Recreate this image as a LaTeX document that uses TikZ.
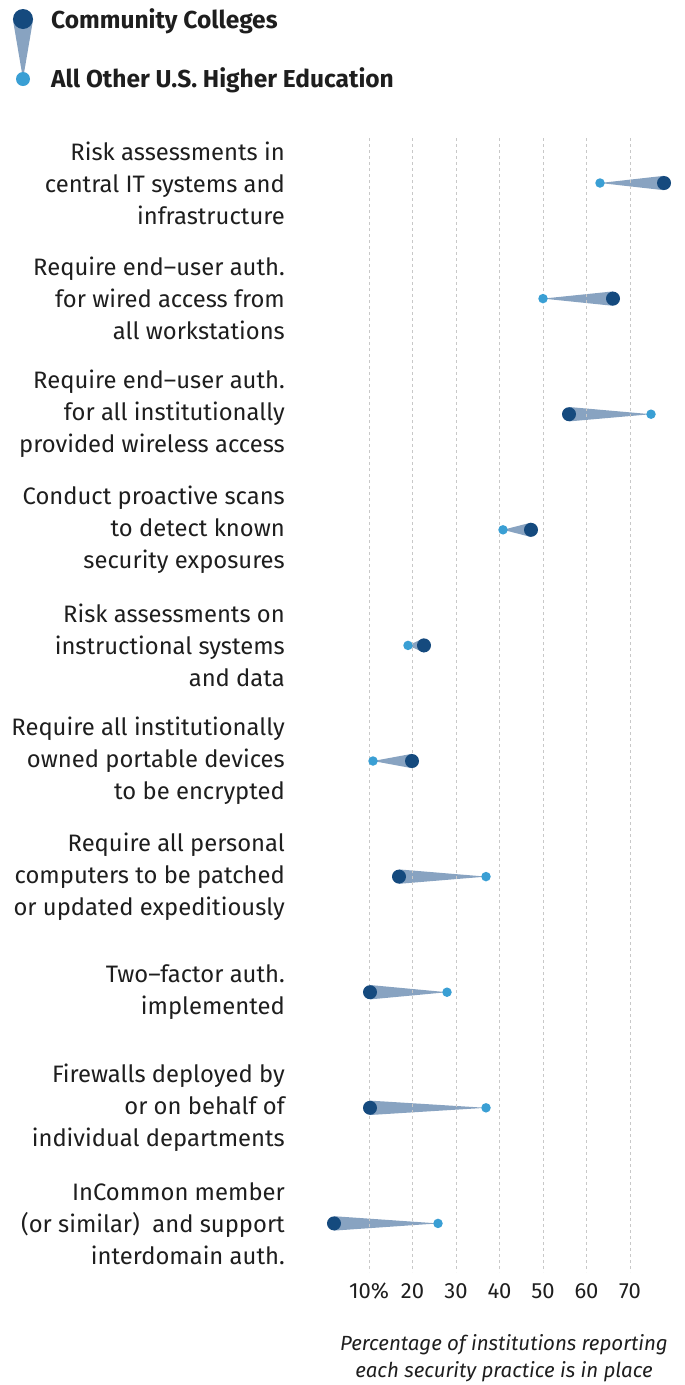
\documentclass[tikz,border=0pt]{standalone}
\usepackage{fontspec}
\setmainfont{Fira Sans}
\usetikzlibrary{backgrounds}
\definecolor{darkdot}{RGB}{21,74,126}
\definecolor{lightdot}{RGB}{58,159,212}
\definecolor{wedgec}{RGB}{136,163,193}
\definecolor{gridc}{RGB}{200,200,200}
\definecolor{txt}{RGB}{30,30,30}
\tikzset{
  dk/.style={circle,fill=darkdot,inner sep=0pt,minimum size=14pt},
  lt/.style={circle,fill=lightdot,inner sep=0pt,minimum size=9.5pt},
  wedge/.style={fill=wedgec,draw=none},
  lbl/.style={anchor=east,align=right,font=\fontsize{23.8}{32}\selectfont,text=txt,inner sep=0pt},
  tick/.style={anchor=base,font=\fontsize{22}{25}\selectfont,text=txt,inner sep=0pt},
  gridline/.style={gridc,dashed,line width=0.9pt},
  leg/.style={anchor=base west,font=\bfseries\fontsize{24.5}{25}\selectfont,text=txt,inner sep=0pt}
}
\begin{document}
\begin{tikzpicture}[x=1pt,y=-1pt]
\useasboundingbox (0,0) rectangle (685,1385);
% grid
\foreach \p/\t [count=\i] in {369/10\%,412.5/20,456/30,499.5/40,543/50,586.5/60,630/70}{
  \draw[gridline] (\p,138) -- (\p,1272);
  \node[tick] (t\i) at (\p,1298) {\t};
}
% legend
\node[dk,minimum size=20pt] (ld) at (23,19) {};
\node[lt,minimum size=14pt] (ll) at (23,79) {};
\begin{scope}[on background layer]
\fill[wedge] (ll.center) -- (ld.west) -- (ld.east) -- cycle;
\end{scope}
\node[leg] (legd) at (51,28) {Community Colleges};
\node[leg] (legl) at (51,87) {All Other U.S. Higher Education};
% rows
\foreach \dx/\lx/\txt [count=\i] in {
 664/600/{Risk assessments in\\central IT systems and\\infrastructure},
 613/543/{Require end–user auth.\\for wired access from\\all workstations},
 569/651/{Require end–user auth.\\for all institutionally\\provided wireless access},
 531/503/{Conduct proactive scans\\to detect known\\security exposures},
 424/408/{Risk assessments on\\instructional systems\\and data},
 412/373/{Require all institutionally\\owned portable devices\\to be encrypted},
 399/486/{Require all personal\\computers to be patched\\or updated expeditiously},
 370/447/{Two–factor auth.\\implemented},
 370/486/{Firewalls deployed by\\or on behalf of\\individual departments},
 334/438/{InCommon member\\(or similar)\ \ and support\\interdomain auth.}}{
  \pgfmathsetmacro{\yy}{183+115.6*(\i-1)}
  \node[dk] (d\i) at (\dx,\yy) {};
  \node[lt] (l\i) at (\lx,\yy) {};
  \begin{scope}[on background layer]
  \fill[wedge] (l\i.center) -- (d\i.north) -- (d\i.south) -- cycle;
  \end{scope}
  \node[lbl] (lab\i) at (285,\yy) {\txt};
}
\node[anchor=base,align=center,font=\itshape\fontsize{20.5}{27}\selectfont,text=txt,inner sep=0pt] (axt) at (504,1377) {Percentage of institutions reporting\\each security practice is in place};
\end{tikzpicture}
\end{document}
